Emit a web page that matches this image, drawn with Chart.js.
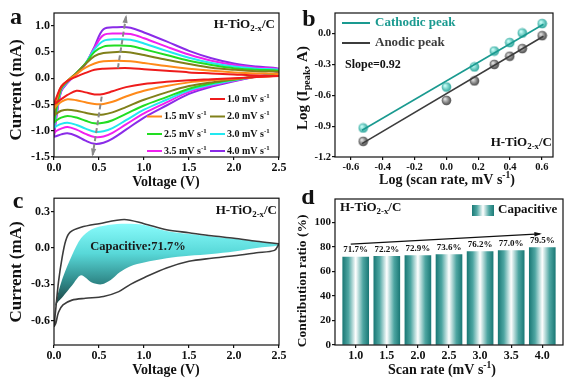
<!DOCTYPE html>
<html>
<head>
<meta charset="utf-8">
<script src="https://cdn.jsdelivr.net/npm/chart.js@4.4.1/dist/chart.umd.min.js"></script>
<style>
  html, body { margin: 0; padding: 0; background: #fff; }
  #fig { position: relative; width: 576px; height: 385px; overflow: hidden; }
  .panel { position: absolute; }
</style>
</head>
<body>
<div id="fig">
  <div class="panel" style="left:0;top:0;width:290px;height:190px"><canvas id="chartA"></canvas></div>
  <div class="panel" style="left:290px;top:0;width:286px;height:190px"><canvas id="chartB"></canvas></div>
  <div class="panel" style="left:0;top:190px;width:290px;height:195px"><canvas id="chartC"></canvas></div>
  <div class="panel" style="left:290px;top:190px;width:286px;height:195px"><canvas id="chartD"></canvas></div>
</div>
<script>
// ---------- (a) CV curves at different scan rates ----------
const rateLabels = ['1.0', '1.5', '2.0', '2.5', '3.0', '3.5', '4.0'];
const voltUp   = [0, 0.03, 0.08, 0.15, 0.25, 0.35, 0.45, 0.55, 0.7, 0.85, 1.0, 1.25, 1.5, 1.75, 2.0, 2.25, 2.5];
const voltDown = [2.5, 2.25, 2.0, 1.75, 1.5, 1.25, 1.0, 0.8, 0.65, 0.55, 0.45, 0.35, 0.25, 0.15, 0.08, 0.03, 0];

const up10 = [-0.5, -0.35, -0.16, -0.05, 0.03, 0.1, 0.16, 0.18, 0.19, 0.19, 0.17, 0.14, 0.11, 0.09, 0.07, 0.05, 0.04];
const dn10 = [0.04, 0.02, 0.0, -0.02, -0.04, -0.07, -0.11, -0.17, -0.25, -0.3, -0.31, -0.27, -0.24, -0.32, -0.4, -0.46, -0.5];
const up15 = [-0.58, -0.4, -0.16, -0.05, 0.08, 0.2, 0.28, 0.32, 0.33, 0.32, 0.29, 0.23, 0.18, 0.14, 0.11, 0.09, 0.08];
const dn15 = [0.05, 0.02, -0.01, -0.04, -0.08, -0.15, -0.24, -0.35, -0.45, -0.49, -0.49, -0.46, -0.42, -0.4, -0.45, -0.52, -0.58];
const up20 = [-0.72, -0.48, -0.18, -0.05, 0.1, 0.27, 0.42, 0.48, 0.5, 0.49, 0.44, 0.35, 0.27, 0.2, 0.16, 0.13, 0.12];
const dn20 = [0.07, 0.03, -0.02, -0.08, -0.15, -0.27, -0.41, -0.55, -0.65, -0.69, -0.69, -0.66, -0.62, -0.6, -0.62, -0.67, -0.72];
const up25 = [-0.85, -0.56, -0.2, -0.06, 0.1, 0.28, 0.5, 0.6, 0.62, 0.61, 0.55, 0.44, 0.33, 0.25, 0.19, 0.16, 0.14];
const dn25 = [0.08, 0.03, -0.03, -0.1, -0.2, -0.36, -0.52, -0.68, -0.8, -0.85, -0.86, -0.81, -0.75, -0.72, -0.75, -0.8, -0.85];
const up30 = [-0.95, -0.62, -0.22, -0.07, 0.1, 0.28, 0.55, 0.71, 0.74, 0.73, 0.66, 0.52, 0.39, 0.29, 0.22, 0.18, 0.16];
const dn30 = [0.09, 0.03, -0.04, -0.12, -0.23, -0.41, -0.6, -0.8, -0.95, -1.01, -1.02, -0.96, -0.89, -0.85, -0.87, -0.91, -0.95];
const up35 = [-1.05, -0.68, -0.24, -0.08, 0.09, 0.27, 0.58, 0.82, 0.85, 0.84, 0.76, 0.6, 0.45, 0.33, 0.25, 0.2, 0.17];
const dn35 = [0.1, 0.03, -0.05, -0.14, -0.26, -0.46, -0.67, -0.88, -1.04, -1.11, -1.12, -1.06, -0.98, -0.93, -0.96, -1.0, -1.05];
const up40 = [-1.12, -0.7, -0.25, -0.09, 0.08, 0.27, 0.6, 0.93, 0.97, 0.96, 0.87, 0.7, 0.52, 0.38, 0.28, 0.22, 0.18];
const dn40 = [0.11, 0.03, -0.06, -0.16, -0.3, -0.52, -0.75, -0.98, -1.15, -1.23, -1.25, -1.19, -1.1, -1.05, -1.07, -1.1, -1.12];

const arrowUpV = [0.71, 0.80], arrowUpI = [0.19, 1.17];
const arrowDnV = [0.53, 0.43], arrowDnI = [-0.35, -1.46];

// ---------- (b) log peak current vs log scan rate ----------
const logRate     = [-0.523, 0, 0.176, 0.301, 0.398, 0.477, 0.602];
const cathodicLog = [-0.918, -0.52, -0.324, -0.17, -0.088, 0.006, 0.097];
const anodicLog   = [-1.048, -0.65, -0.46, -0.30, -0.22, -0.146, -0.02];
const fitX        = [-0.53, 0.61];
const cathodicFit = [-0.94, 0.09];
const anodicFit   = [-1.07, -0.026];

// ---------- (c) capacitive contribution at 1.0 mV/s ----------
const cvUpV  = [0, 0.02, 0.05, 0.09, 0.13, 0.18, 0.3, 0.5, 0.78, 1.0, 1.25, 1.5, 1.75, 2.0, 2.25, 2.5];
const cvUpI  = [-0.65, -0.5, -0.28, -0.08, 0.06, 0.13, 0.17, 0.2, 0.235, 0.2, 0.15, 0.125, 0.1, 0.08, 0.055, 0.035];
const cvDnV  = [2.5, 2.45, 2.25, 2.0, 1.75, 1.5, 1.25, 1.0, 0.85, 0.72, 0.55, 0.35, 0.2, 0.1, 0.05, 0.02, 0];
const cvDnI  = [0.035, -0.02, -0.04, -0.065, -0.085, -0.11, -0.165, -0.245, -0.3, -0.36, -0.4, -0.415, -0.43, -0.47, -0.53, -0.62, -0.65];
const capUpV = [0.01, 0.05, 0.1, 0.2, 0.3, 0.42, 0.6, 0.8, 1.0, 1.25, 1.5, 1.75, 2.0, 2.25, 2.5];
const capUpI = [-0.48, -0.36, -0.24, -0.06, 0.08, 0.155, 0.19, 0.2, 0.19, 0.14, 0.115, 0.095, 0.075, 0.055, 0.03];
const capDnV = [2.5, 2.25, 2.0, 1.75, 1.5, 1.25, 1.0, 0.85, 0.73, 0.63, 0.53, 0.42, 0.3, 0.2, 0.1, 0.05, 0.01];
const capDnI = [0.02, 0.0, -0.03, -0.05, -0.065, -0.085, -0.12, -0.15, -0.2, -0.265, -0.3, -0.285, -0.225, -0.31, -0.4, -0.44, -0.48];

// ---------- (d) capacitive ratio vs scan rate ----------
const scanRates     = [1.0, 1.5, 2.0, 2.5, 3.0, 3.5, 4.0];
const capacitivePct = [71.7, 72.2, 72.9, 73.6, 76.2, 77.0, 79.5];
const trendX = [0.92, 3.96], trendY = [82.3, 90.5];

// ===========================================================
// 公共样式 / 工具
// ===========================================================
const FAMILY = '"Liberation Serif", "DejaVu Serif", serif';
const rateColors = ['#ee1c1c', '#ff8a1a', '#80801a', '#22dd22', '#22e8f0', '#f020f0', '#8a2be8'];
const TEAL = '#1a9a90', DARK = '#3c3c3c';

Chart.defaults.animation = false;
Chart.defaults.font.family = FAMILY;
Chart.defaults.font.weight = 'bold';
Chart.defaults.color = '#111';
Chart.defaults.plugins.legend.display = false;
Chart.defaults.plugins.tooltip.enabled = false;

const toXY = (xs, ys) => xs.map((x, k) => ({ x, y: ys[k] }));

// rich text: parts = [[text, 'sub'|'sup'|undefined], ...]
function richText(ctx, parts, x, y, size, opt = {}) {
  ctx.save();
  ctx.translate(x, y);
  if (opt.rotate) ctx.rotate(opt.rotate);
  const fontOf = s => `bold ${s}px ${FAMILY}`;
  let w = 0;
  const segs = parts.map(([t, m]) => {
    const s = m ? size * 0.68 : size;
    ctx.font = fontOf(s);
    const sw = ctx.measureText(t).width;
    w += sw;
    return { t, m, s, sw };
  });
  let cx = opt.align === 'left' ? 0 : opt.align === 'right' ? -w : -w / 2;
  ctx.fillStyle = opt.color || '#111';
  ctx.textBaseline = 'middle';
  ctx.textAlign = 'left';
  segs.forEach(g => {
    ctx.font = fontOf(g.s);
    const dy = g.m === 'sub' ? size * 0.3 : g.m === 'sup' ? -size * 0.32 : 0;
    ctx.fillText(g.t, cx, dy);
    cx += g.sw;
  });
  ctx.restore();
}
const SAMPLE = [['H-TiO'], ['2-x', 'sub'], ['/C']];
const MVS = [[' mV s'], ['-1', 'sup']];

function axis(min, max, values, fmt, size, fit) {
  return {
    type: 'linear', min, max, offset: false,
    afterBuildTicks: s => { s.ticks = values.map(v => ({ value: v })); },
    afterFit: fit,
    grid: { drawOnChartArea: false, drawTicks: true, tickLength: 3, tickColor: '#111', lineWidth: 1.2, offset: false },
    border: { display: false },
    ticks: { callback: fmt, font: { size }, padding: 1, color: '#111', maxRotation: 0, autoSkip: false },
  };
}
const f1 = v => v.toFixed(1);

// 边框 + 箭头
Chart.register({
  id: 'frameAndArrows',
  afterDatasetsDraw(chart) {
    const ctx = chart.ctx;
    chart.data.datasets.forEach((ds, i) => {
      if (!ds.arrowHead) return;
      const pts = chart.getDatasetMeta(i).data;
      const a = pts[pts.length - 2], b = pts[pts.length - 1];
      const ang = Math.atan2(b.y - a.y, b.x - a.x);
      const s = ds.arrowHead;
      ctx.save();
      ctx.translate(b.x, b.y);
      ctx.rotate(ang);
      ctx.beginPath();
      ctx.moveTo(2, 0);
      ctx.lineTo(-s * 1.8, -s * 0.75);
      ctx.lineTo(-s * 1.8, s * 0.75);
      ctx.closePath();
      ctx.fillStyle = ds.borderColor;
      ctx.fill();
      ctx.restore();
    });
  },
  afterDraw(chart) {
    const { ctx, chartArea: a } = chart;
    ctx.save();
    ctx.strokeStyle = '#111';
    ctx.lineWidth = 1.2;
    ctx.strokeRect(a.left, a.top, a.right - a.left, a.bottom - a.top);
    ctx.restore();
  },
});

function sphere(inner, outer) {
  const c = document.createElement('canvas');
  c.width = c.height = 11;
  const g = c.getContext('2d');
  const grd = g.createRadialGradient(4, 4, 0.5, 5.5, 5.5, 5.5);
  grd.addColorStop(0, inner);
  grd.addColorStop(1, outer);
  g.fillStyle = grd;
  g.beginPath(); g.arc(5.5, 5.5, 4.8, 0, Math.PI * 2); g.fill();
  return c;
}

// ===========================================================
// (a)
// ===========================================================
const upCur = [up10, up15, up20, up25, up30, up35, up40];
const dnCur = [dn10, dn15, dn20, dn25, dn30, dn35, dn40];
const cvDatasets = rateLabels.map((r, i) => ({
  label: r + ' mV/s',
  data: toXY(voltUp.concat(voltDown), upCur[i].concat(dnCur[i])),
  borderColor: rateColors[i], borderWidth: 2, pointRadius: 0, tension: 0.35, fill: false,
}));
const arrowStyle = { borderColor: '#8a8a8a', borderWidth: 2, borderDash: [5, 3], pointRadius: 0, fill: false, arrowHead: 3.5 };

new Chart(document.getElementById('chartA'), {
  type: 'line',
  data: { datasets: [
    { ...arrowStyle, data: toXY(arrowUpV, arrowUpI) },
    { ...arrowStyle, data: toXY(arrowDnV, arrowDnI) },
    ...cvDatasets,
  ] },
  options: {
    responsive: true, maintainAspectRatio: false,
    layout: { padding: { left: 0, top: 13, right: 11, bottom: 0 } },
    scales: {
      x: axis(0, 2.5, [0, 0.5, 1, 1.5, 2, 2.5], f1, 12, s => { s.height = 33; }),
      y: axis(-1.5, 1.24, [-1.5, -1, -0.5, 0, 0.5, 1], f1, 12, s => { s.width = 54; }),
    },
  },
  plugins: [{
    id: 'annotA',
    afterDraw(chart) {
      const ctx = chart.ctx;
      richText(ctx, [['a']], 16, 18, 24);
      richText(ctx, SAMPLE, 275, 25, 13, { align: 'right' });
      richText(ctx, [['Current (mA)']], 17, 90, 17, { rotate: -Math.PI / 2 });
      richText(ctx, [['Voltage (V)']], 166, 182, 14);
      // 图例
      const rows = [[null, 0], [1, 2], [3, 4], [5, 6]];
      const ys = [99, 116.5, 134, 151];
      rows.forEach((row, r) => {
        row.forEach((idx, c) => {
          if (idx === null) return;
          const lx = c === 0 ? 147 : 210;
          ctx.save();
          ctx.strokeStyle = rateColors[idx];
          ctx.lineWidth = 2;
          ctx.beginPath(); ctx.moveTo(lx, ys[r]); ctx.lineTo(lx + 15, ys[r]); ctx.stroke();
          ctx.restore();
          richText(ctx, [[rateLabels[idx]], ...MVS], lx + 17, ys[r], 10, { align: 'left' });
        });
      });
    },
  }],
});

// ===========================================================
// (b)
// ===========================================================
new Chart(document.getElementById('chartB'), {
  type: 'scatter',
  data: { datasets: [
    { data: toXY(fitX, cathodicFit), showLine: true, borderColor: TEAL, borderWidth: 1.6, pointRadius: 0 },
    { data: toXY(fitX, anodicFit), showLine: true, borderColor: DARK, borderWidth: 1.6, pointRadius: 0 },
    { data: toXY(logRate, cathodicLog), pointStyle: sphere('#c8fff8', TEAL), pointRadius: 5 },
    { data: toXY(logRate, anodicLog), pointStyle: sphere('#e0e0e0', '#333'), pointRadius: 5 },
  ] },
  options: {
    responsive: true, maintainAspectRatio: false,
    layout: { padding: { left: 0, top: 13, right: 23, bottom: 0 } },
    scales: {
      x: axis(-0.7, 0.67, [-0.6, -0.4, -0.2, 0, 0.2, 0.4, 0.6], f1, 10.5, s => { s.height = 33; }),
      y: axis(-1.2, 0.2, [-1.2, -0.9, -0.6, -0.3, 0], f1, 10.5, s => { s.width = 45; }),
    },
  },
  plugins: [{
    id: 'annotB',
    afterDraw(chart) {
      const ctx = chart.ctx;
      richText(ctx, [['b']], 19, 20, 24);
      richText(ctx, [['Log (I'], ['peak', 'sub'], [', A)']], 13, 88, 15, { rotate: -Math.PI / 2 });
      richText(ctx, [['Log (scan rate, mV s'], ['-1', 'sup'], [')']], 157, 180, 14);
      [[TEAL, 'Cathodic peak', 23], [DARK, 'Anodic peak', 43]].forEach(([col, txt, y]) => {
        ctx.save();
        ctx.strokeStyle = col; ctx.lineWidth = 2;
        ctx.beginPath(); ctx.moveTo(52, y); ctx.lineTo(80, y); ctx.stroke();
        ctx.restore();
        richText(ctx, [[txt]], 85, y, 13, { align: 'left', color: col });
      });
      richText(ctx, [['Slope=0.92']], 55, 65, 12, { align: 'left' });
      richText(ctx, SAMPLE, 262, 143, 13, { align: 'right' });
    },
  }],
});

// ===========================================================
// (c)
// ===========================================================
function capGradient(context) {
  const chart = context.chart;
  if (!chart.chartArea) return '#55d5d5';
  const ys = chart.scales.y;
  const g = chart.ctx.createLinearGradient(0, ys.getPixelForValue(0.2), 0, ys.getPixelForValue(-0.5));
  g.addColorStop(0, '#88fbfb');
  g.addColorStop(0.35, '#58d8d8');
  g.addColorStop(0.7, '#2e8585');
  g.addColorStop(1, '#1a3535');
  return g;
}

new Chart(document.getElementById('chartC'), {
  type: 'line',
  data: { datasets: [
    { data: toXY(cvUpV.concat(cvDnV), cvUpI.concat(cvDnI)), borderColor: DARK, borderWidth: 1.6, pointRadius: 0, tension: 0.3, fill: false },
    { data: toXY(capUpV.concat(capDnV), capUpI.concat(capDnI)), borderWidth: 0, borderColor: 'rgba(0,0,0,0)', pointRadius: 0, tension: 0.3, fill: 'shape', backgroundColor: capGradient },
  ] },
  options: {
    responsive: true, maintainAspectRatio: false,
    layout: { padding: { left: 0, top: 8, right: 11, bottom: 0 } },
    scales: {
      x: axis(0, 2.5, [0, 0.5, 1, 1.5, 2, 2.5], f1, 12, s => { s.height = 40; }),
      y: axis(-0.8, 0.41, [-0.6, -0.3, 0, 0.3], f1, 12, s => { s.width = 54; }),
    },
  },
  plugins: [{
    id: 'annotC',
    afterDraw(chart) {
      const ctx = chart.ctx;
      richText(ctx, [['c']], 18, 12, 24);
      richText(ctx, SAMPLE, 277, 21, 13, { align: 'right' });
      richText(ctx, [['Capacitive:71.7%']], 138, 57, 12.5, { color: '#1a1a1a' });
      richText(ctx, [['Current (mA)']], 17, 82, 17, { rotate: -Math.PI / 2 });
      richText(ctx, [['Voltage (V)']], 166, 180, 14);
    },
  }],
});

// ===========================================================
// (d)
// ===========================================================
function barGrad(ctx2d, x0, x1) {
  const g = ctx2d.createLinearGradient(x0, 0, x1, 0);
  g.addColorStop(0, '#1c7a77');
  g.addColorStop(0.22, '#4ea6a2');
  g.addColorStop(0.5, '#ffffff');
  g.addColorStop(0.78, '#4ea6a2');
  g.addColorStop(1, '#1c7a77');
  return g;
}
const BAR_W = 26;

new Chart(document.getElementById('chartD'), {
  type: 'bar',
  data: { datasets: [
    {
      type: 'line', data: toXY(trendX, trendY), borderColor: '#111', borderWidth: 1.2,
      pointRadius: 0, fill: false, arrowHead: 3,
    },
    {
      data: toXY(scanRates, capacitivePct), barThickness: BAR_W, borderWidth: 0,
      backgroundColor: c => {
        const chart = c.chart;
        if (!chart.chartArea || c.type !== 'data') return '#4ea6a2';
        const x = chart.scales.x.getPixelForValue(scanRates[c.dataIndex]);
        return barGrad(chart.ctx, x - BAR_W / 2, x + BAR_W / 2);
      },
    },
  ] },
  options: {
    responsive: true, maintainAspectRatio: false,
    layout: { padding: { left: 0, top: 9, right: 13, bottom: 0 } },
    scales: {
      x: axis(0.667, 4.333, scanRates, f1, 12, s => { s.height = 40; }),
      y: axis(0, 119, [0, 20, 40, 60, 80, 100], v => String(v), 11, s => { s.width = 45; }),
    },
  },
  plugins: [{
    id: 'annotD',
    afterDraw(chart) {
      const ctx = chart.ctx;
      const meta = chart.getDatasetMeta(1);
      meta.data.forEach((bar, i) => {
        richText(ctx, [[capacitivePct[i].toFixed(1) + '%']], bar.x, bar.y - 7, 9);
      });
      richText(ctx, [['d']], 18, 8, 24);
      richText(ctx, SAMPLE, 50, 18, 13, { align: 'left' });
      ctx.fillStyle = barGrad(ctx, 182, 204);
      ctx.fillRect(182, 15, 22, 11);
      richText(ctx, [['Capacitive']], 208, 20, 13, { align: 'left' });
      richText(ctx, [['Contribution ratio (%)']], 13, 91, 13.5, { rotate: -Math.PI / 2 });
      richText(ctx, [['Scan rate (mV s'], ['-1', 'sup'], [')']], 152, 180, 14);
    },
  }],
});
</script>
</body>
</html>
